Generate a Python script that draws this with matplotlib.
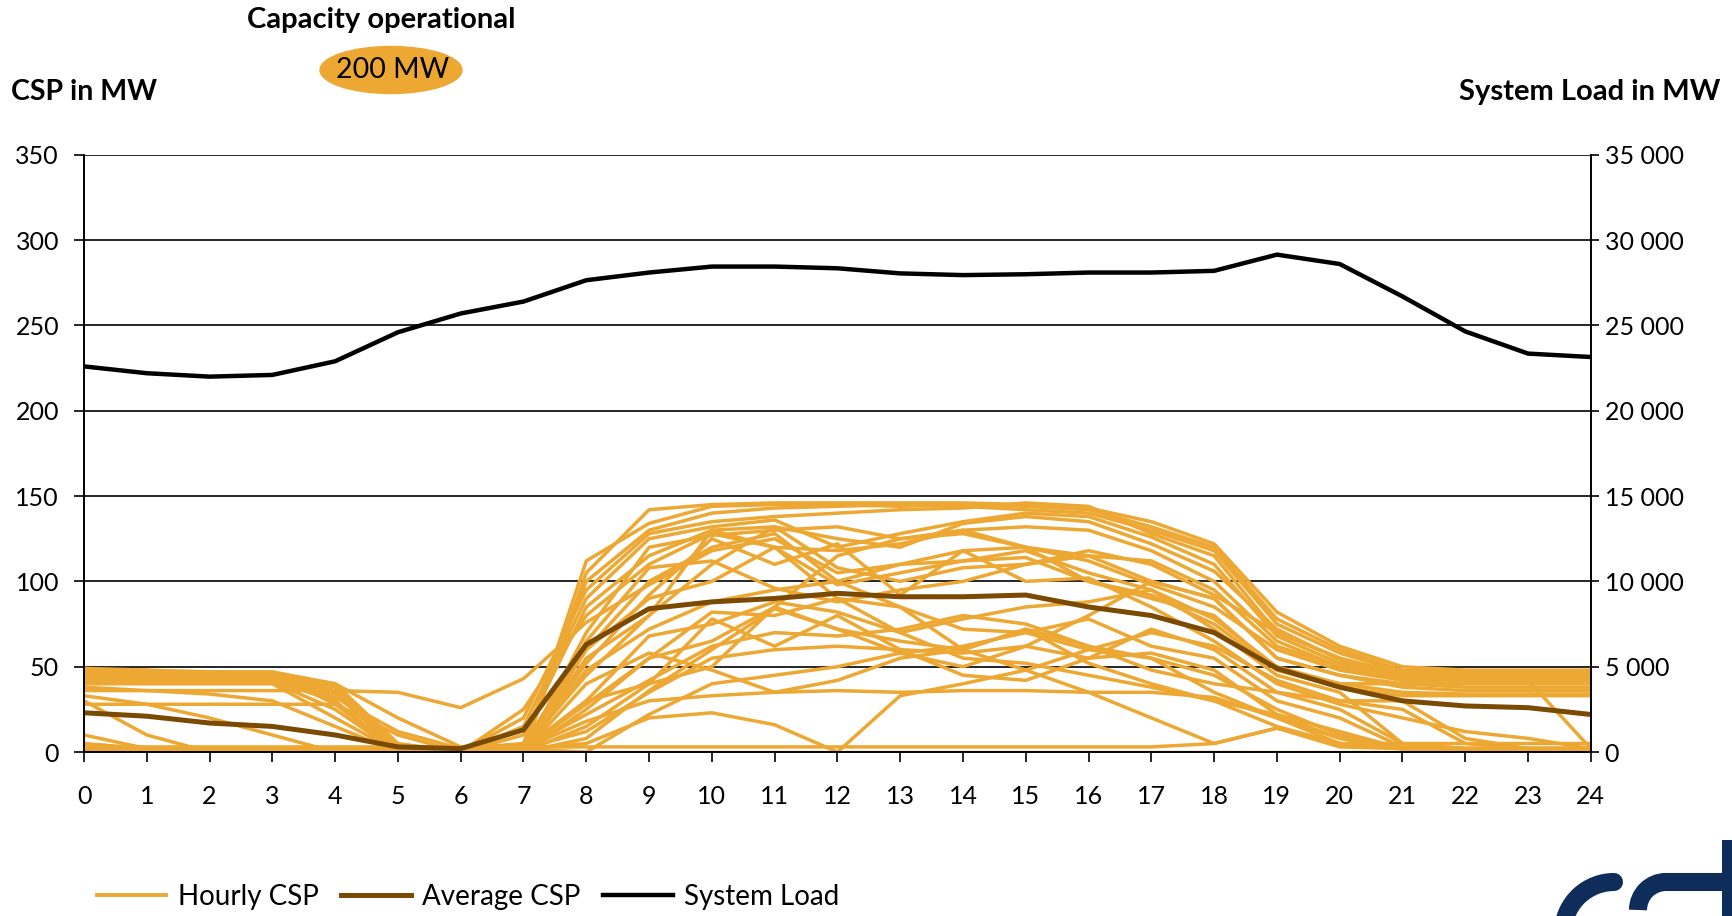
import matplotlib
matplotlib.use("Agg")
import matplotlib.pyplot as plt
from matplotlib.patches import Ellipse, Arc, Rectangle
from matplotlib.ticker import FuncFormatter

plt.rcParams['font.family'] = ['Lato', 'DejaVu Sans']

hours = list(range(25))

system_load = [22600, 22200, 22000, 22100, 22900, 24600, 25700, 26400, 27650, 28100,
               28450, 28450, 28350, 28050, 27950, 28000, 28100, 28100, 28200, 29150,
               28600, 26700, 24650, 23350, 23150]

average_csp = [23, 21, 17, 15, 10, 3, 2, 13, 63, 84, 88, 90, 93, 91, 91, 92, 85, 80, 70, 49,
               38, 30, 27, 26, 22]

hourly_csp = [
    [48, 48, 47, 47, 40, 5, 0, 0, 105, 142, 145, 146, 146, 146, 146, 145, 143, 135, 122, 82, 62, 50, 48, 48, 48],
    [47, 46, 46, 45, 38, 3, 0, 2, 112, 134, 144, 145, 145, 144, 145, 144, 142, 132, 120, 78, 60, 48, 47, 47, 47],
    [45, 45, 44, 44, 36, 2, 0, 5, 100, 130, 140, 143, 144, 145, 144, 142, 140, 130, 118, 75, 58, 47, 46, 46, 46],
    [44, 44, 43, 43, 34, 1, 0, 20, 95, 128, 135, 138, 140, 142, 143, 146, 144, 128, 115, 70, 55, 46, 45, 45, 45],
    [43, 43, 43, 42, 30, 0, 0, 15, 90, 125, 132, 136, 120, 128, 135, 140, 138, 126, 110, 68, 52, 45, 44, 44, 44],
    [42, 42, 42, 41, 25, 0, 0, 10, 85, 115, 130, 132, 125, 120, 134, 138, 135, 122, 106, 72, 54, 44, 43, 43, 43],
    [40, 40, 40, 40, 20, 0, 0, 25, 80, 110, 128, 120, 118, 122, 130, 132, 130, 118, 100, 65, 50, 43, 42, 42, 42],
    [49, 48, 45, 46, 28, 0, 0, 0, 70, 120, 127, 130, 132, 125, 128, 120, 115, 112, 95, 62, 50, 44, 42, 42, 2],
    [36, 36, 36, 36, 36, 35, 26, 43, 76, 98, 118, 125, 105, 110, 118, 120, 112, 98, 85, 60, 48, 42, 42, 42, 42],
    [33, 28, 20, 10, 0, 0, 0, 3, 55, 80, 110, 132, 108, 100, 108, 110, 115, 100, 90, 55, 45, 38, 36, 36, 36],
    [30, 10, 0, 0, 0, 0, 0, 2, 60, 90, 100, 120, 98, 105, 112, 118, 105, 95, 78, 50, 40, 35, 34, 34, 34],
    [28, 28, 28, 28, 28, 10, 0, 0, 48, 72, 88, 95, 100, 110, 112, 114, 100, 90, 80, 48, 38, 33, 33, 33, 33],
    [10, 2, 2, 2, 2, 2, 2, 2, 30, 68, 75, 88, 82, 70, 78, 85, 88, 95, 72, 45, 35, 5, 2, 2, 2],
    [2, 2, 2, 2, 2, 2, 2, 2, 28, 55, 82, 80, 90, 85, 72, 70, 78, 62, 55, 30, 20, 3, 2, 2, 2],
    [2, 2, 2, 2, 2, 2, 2, 2, 22, 42, 62, 70, 68, 72, 80, 75, 62, 55, 45, 25, 10, 2, 2, 2, 2],
    [2, 2, 2, 2, 2, 2, 2, 2, 12, 35, 55, 60, 62, 60, 58, 62, 55, 58, 48, 22, 8, 2, 2, 2, 2],
    [2, 2, 2, 2, 2, 2, 2, 2, 0, 22, 40, 45, 50, 58, 62, 70, 60, 55, 35, 20, 5, 2, 2, 2, 2],
    [2, 2, 2, 2, 2, 2, 2, 2, 5, 20, 23, 16, 0, 33, 40, 48, 35, 20, 5, 14, 3, 2, 2, 2, 2],
    [2, 2, 2, 2, 2, 2, 2, 2, 18, 30, 33, 35, 36, 35, 36, 36, 35, 35, 32, 20, 8, 2, 2, 2, 2],
    [46, 46, 45, 45, 35, 3, 0, 0, 40, 58, 48, 35, 42, 55, 60, 72, 52, 40, 30, 15, 5, 2, 2, 2, 2],
    [2, 2, 2, 2, 2, 2, 2, 5, 60, 100, 120, 128, 100, 85, 60, 48, 60, 70, 62, 42, 30, 25, 5, 2, 2],
    [2, 2, 2, 2, 2, 2, 2, 2, 45, 80, 130, 120, 90, 70, 55, 52, 45, 38, 30, 22, 12, 2, 2, 2, 2],
    [2, 2, 2, 2, 2, 2, 2, 0, 30, 40, 50, 85, 115, 125, 130, 120, 100, 92, 75, 48, 40, 40, 40, 40, 40],
    [2, 2, 2, 2, 2, 2, 2, 0, 8, 36, 60, 84, 72, 58, 50, 62, 80, 100, 90, 55, 45, 40, 38, 38, 38],
    [5, 2, 2, 2, 2, 2, 2, 0, 15, 40, 78, 62, 80, 60, 45, 42, 55, 72, 60, 35, 25, 5, 2, 2, 2],
    [0, 0, 0, 0, 0, 0, 0, 0, 0, 0, 0, 0, 0, 0, 0, 0, 0, 0, 0, 0, 0, 0, 0, 0, 0],
    [3, 3, 3, 3, 3, 3, 3, 3, 3, 3, 3, 3, 3, 3, 3, 3, 3, 3, 5, 14, 5, 5, 5, 5, 5],
    [38, 36, 34, 30, 15, 0, 0, 0, 25, 55, 65, 85, 72, 65, 60, 72, 62, 48, 40, 35, 30, 30, 8, 2, 2],
    [47, 47, 47, 46, 40, 20, 3, 0, 65, 108, 112, 96, 88, 95, 100, 110, 118, 110, 92, 70, 55, 45, 44, 44, 44],
    [41, 41, 41, 41, 32, 12, 2, 0, 52, 92, 125, 110, 122, 92, 118, 100, 102, 85, 65, 40, 28, 20, 12, 8, 2],
]

orange = '#EDA834'
brown = '#7A4A02'
navy = '#0F2D5A'

fig = plt.figure(figsize=(17.32, 9.16), dpi=100)

# logo fragment in the bottom-right corner, drawn in pixel coordinates
lax = fig.add_axes([0, 0, 1, 1], zorder=-1)
lax.set_xlim(0, 1732)
lax.set_ylim(916, 0)
lax.axis('off')
lax.add_patch(Arc((1614, 933), 102, 102, theta1=100, theta2=270, color=navy, lw=13, capstyle='round'))
lax.add_patch(Arc((1666, 910), 56, 56, theta1=180, theta2=270, color=navy, lw=13))
lax.plot([1665, 1740], [882, 882], color=navy, lw=13, solid_capstyle='butt')
lax.add_patch(Rectangle((1722, 840), 20, 80, color=navy, lw=0))

ax = fig.add_axes([0.0485, 0.179, 0.870, 0.652])
ax2 = ax.twinx()

for i, row in enumerate(hourly_csp):
    ax.plot(hours, row, color=orange, lw=2.5, label='Hourly CSP' if i == 0 else '_nolegend_', zorder=2)
ax.plot(hours, average_csp, color=brown, lw=3.6, label='Average CSP', zorder=3)
ax2.plot(hours, system_load, color='black', lw=3.2, label='System Load')

ax.set_xlim(0, 24)
ax.set_ylim(0, 350)
ax2.set_ylim(0, 35000)
ax.set_xticks(hours)
ax.set_yticks(range(0, 351, 50))
ax2.set_yticks(range(0, 35001, 5000))
ax2.yaxis.set_major_formatter(FuncFormatter(lambda v, p: f"{int(v):,}".replace(",", " ")))

ax.grid(axis='y', color='black', lw=1.2, zorder=0)
ax.set_axisbelow(True)
for a in (ax, ax2):
    a.spines['top'].set_visible(False)
    for s in ('left', 'right', 'bottom'):
        a.spines[s].set_linewidth(1.2)
ax.tick_params(axis='x', direction='out', length=7, width=1.2, pad=17, labelsize=18)
ax.tick_params(axis='y', direction='out', length=7, width=1.2, pad=11, labelsize=18)
ax2.tick_params(axis='y', direction='out', length=6, width=1.2, pad=4, labelsize=18)

fig.text(11 / 1732, 1 - 92 / 916, 'CSP in MW', fontsize=20.5, fontweight='bold', va='center', ha='left')
fig.text(1720 / 1732, 1 - 92 / 916, 'System Load in MW', fontsize=21, fontweight='bold', va='center', ha='right')
fig.text(381 / 1732, 1 - 20 / 916, 'Capacity operational', fontsize=21, fontweight='bold', va='center', ha='center')
fig.add_artist(Ellipse((391 / 1732, 1 - 70 / 916), 142 / 1732, 47 / 916, transform=fig.transFigure,
                       color=orange, zorder=1))
fig.text(393 / 1732, 1 - 70 / 916, '200 MW', fontsize=20.5, va='center', ha='center', zorder=2)

h1, l1 = ax.get_legend_handles_labels()
h2, l2 = ax2.get_legend_handles_labels()
leg = fig.legend(h1 + h2, l1 + l2, loc='center left', bbox_to_anchor=(97 / 1732, 1 - 897 / 916),
                 ncol=3, frameon=False, fontsize=20, handlelength=2.5, handletextpad=0.4,
                 columnspacing=0.83, borderpad=0, borderaxespad=0)
leg.get_lines()[0].set_linewidth(2.8)

fig.savefig('out.png', dpi=100)
